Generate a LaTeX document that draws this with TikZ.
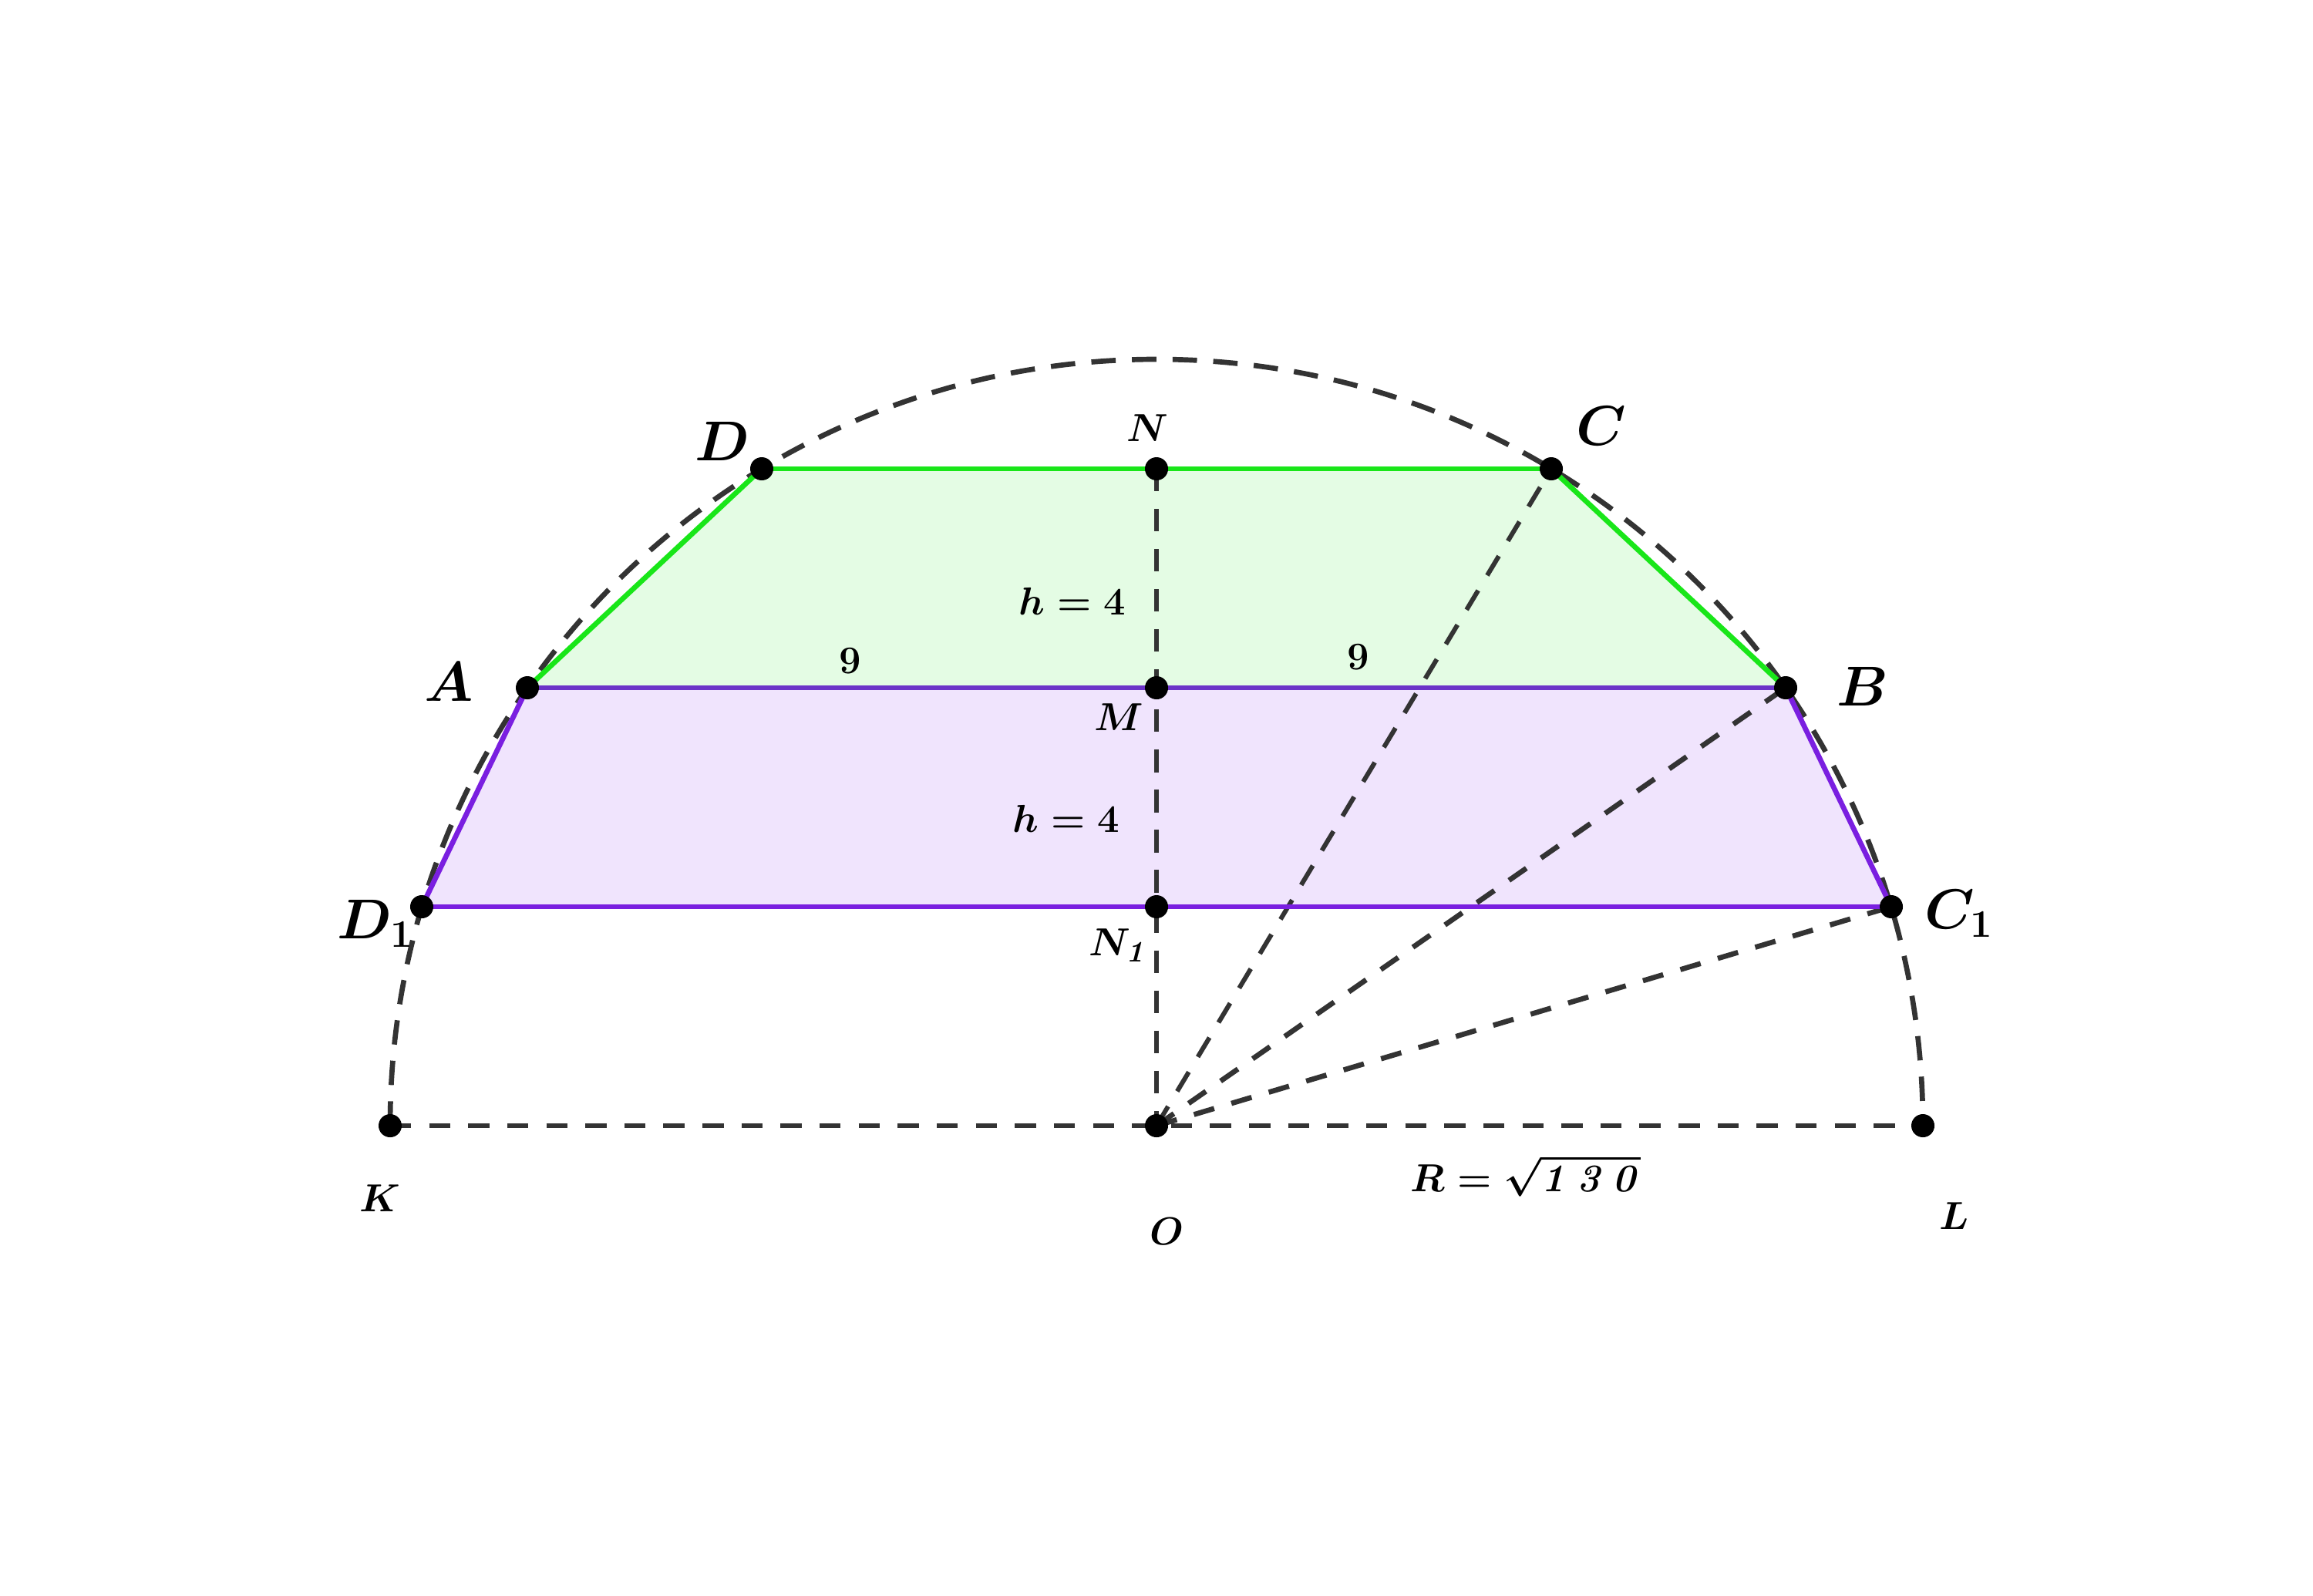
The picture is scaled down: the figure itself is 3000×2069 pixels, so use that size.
\documentclass[tikz,border=0pt]{standalone}
\usepackage{amsmath}
\definecolor{dgray}{HTML}{333333}
\definecolor{gline}{HTML}{19E619}
\definecolor{gfill}{HTML}{E4FCE4}
\definecolor{pline}{HTML}{7A1FE0}
\definecolor{pline2}{HTML}{6C34C8}
\definecolor{pfill}{HTML}{F0E4FD}
\begin{document}
\begin{tikzpicture}[x=0.01cm,y=-0.01cm,
  dot/.style={circle,fill=black,inner sep=0pt,minimum size=0.3cm},
  biglab/.style={font=\fontsize{20}{24}\selectfont\boldmath, inner sep=0pt},
  smalllab/.style={font=\fontsize{15.5}{18}\selectfont\boldmath, inner sep=0pt},
  dashthick/.style={draw=dgray, line width=1.9pt, dash pattern=on 7.8pt off 6.6pt},
  dasharc/.style={draw=dgray, line width=1.9pt, dash pattern=on 9pt off 6pt},
  dashthin/.style={draw=dgray, line width=1.7pt, dash pattern=on 8.3pt off 6.5pt},
  gedge/.style={draw=gline, line width=1.9pt},
  pedge/.style={draw=pline, line width=1.9pt}]
\useasboundingbox (0,0) rectangle (3000,2069);
% points
\coordinate (O) at (1500,1460);
\coordinate (K) at (506,1460);
\coordinate (L) at (2494,1460);
\coordinate (D) at (988,608);
\coordinate (N) at (1500,608);
\coordinate (C) at (2012,608);
\coordinate (A) at (684,892);
\coordinate (M) at (1500,892);
\coordinate (B) at (2316,892);
\coordinate (D1) at (547,1176);
\coordinate (N1) at (1500,1176);
\coordinate (C1) at (2453,1176);
% fills
\fill[gfill] (D) -- (C) -- (B) -- (A) -- cycle;
\fill[pfill] (A) -- (B) -- (C1) -- (D1) -- cycle;
% dashed lines
\draw[dasharc] (K) arc[start angle=180, end angle=360, radius=994];
\draw[dashthick] (K) -- (L);
\draw[dashthin] (N) -- (O);
\draw[dashthin] (O) -- (C);
\draw[dashthick] (O) -- (B);
\draw[dashthick] (O) -- (C1);
% solid edges
\draw[gedge] (D) -- (C);
\draw[gedge] (D) -- (A);
\draw[gedge] (C) -- (B);
\draw[draw=pline2, line width=1.9pt] (A) -- (B);
\draw[pedge] (A) -- (D1);
\draw[pedge] (B) -- (C1);
\draw[pedge] (D1) -- (C1);
% dots
\foreach \p in {O,K,L,D,N,C,A,M,B,D1,N1,C1}
  \node[dot] (dot\p) at (\p) {};
% labels
\node[biglab] (labD) at (937,572) {$D$};
\node[smalllab] (labN) at (1488,555) {$N$};
\node[biglab] (labC) at (2077,552) {$C$};
\node[smalllab] (labh1) at (1391,780) {$h=4$};
\node[smalllab] (lab9a) at (1103,857) {$9$};
\node[smalllab] (lab9b) at (1762,852) {$9$};
\node[biglab] (labA) at (582,884) {$A$};
\node[smalllab] (labM) at (1451,930) {$M$};
\node[biglab] (labB) at (2416,890) {$B$};
\node[smalllab] (labh2) at (1383,1062) {$h=4$};
\node[biglab] (labD1) at (487,1198) {$D_1$};
\node[smalllab] (labN1) at (1451,1226) {$N_{\mathit{1}}$};
\node[biglab] (labC1) at (2541,1185) {$C_1$};
\node[smalllab] (labK) at (493,1554) {$K$};
\node[smalllab] (labO) at (1513,1597) {$O$};
\node[smalllab] (labR) at (1979,1525) {$R=\sqrt{\mathit{1\,3\,0}}$};
\node[smalllab] (labL) at (2535,1577) {$L$};
\end{tikzpicture}
\end{document}
